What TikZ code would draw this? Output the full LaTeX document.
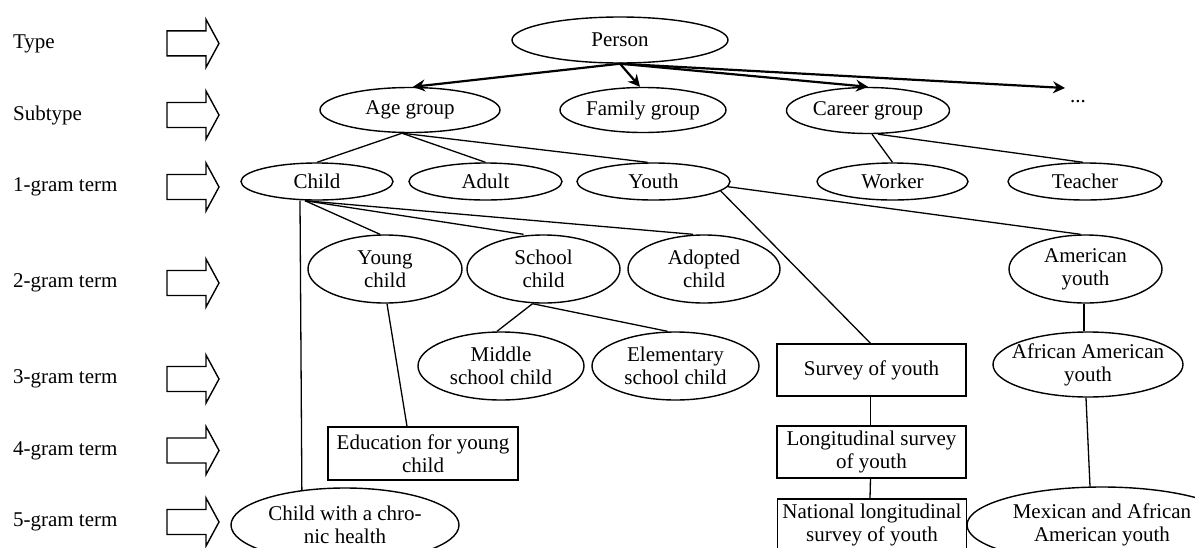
\documentclass[tikz,border=0pt]{standalone}
\usepackage{fontspec}
\setmainfont{Liberation Serif}
\usetikzlibrary{shapes.geometric,arrows.meta}
\begin{document}
\begin{tikzpicture}[x=1pt,y=-1pt,
  txt/.style={font=\fontsize{21}{23}\selectfont},
  lbl/.style={txt,anchor=west,inner sep=0pt},
  ell/.style={txt,ellipse,draw,line width=1.4pt,fill=white,inner sep=0pt,align=center},
  box/.style={txt,rectangle,draw,line width=1.4pt,fill=white,inner sep=0pt,align=center,minimum width=189pt,minimum height=52pt},
  conn/.style={line width=1.3pt},
  harrow/.style={line width=2.2pt,-{Stealth[length=12pt,width=12pt,inset=4pt]}},
  blk/.style={draw,line width=1.4pt,fill=white,line join=miter}]
\clip (0,0) rectangle (1195,547);
\fill[white] (0,0) rectangle (1195,547);

% level labels and block arrows
\foreach \yy/\tt [count=\i] in {43.4/Type,115/Subtype,187/1-gram term,283/2-gram term,379/3-gram term,450.5/4-gram term,522/5-gram term}{
  \node[lbl] (lab\i) at (12.9,\yy) {\tt};
  \draw[blk] (167,{\yy-12.5}) -- (206,{\yy-12.5}) -- (206,{\yy-24}) -- (219,\yy) -- (206,{\yy+24}) -- (206,{\yy+12.5}) -- (167,{\yy+12.5}) -- cycle;
}

% type / subtype
\node[ell,minimum width=216pt,minimum height=46pt] (person) at (620,40) {Person};
\node[ell,minimum width=180pt,minimum height=45pt] (age) at (410,110) {Age group};
\node[ell,minimum width=166pt,minimum height=45pt] (family) at (643,110) {Family group};
\node[ell,minimum width=163pt,minimum height=46pt] (career) at (868,110.5) {Career group};
\node[txt,anchor=base,inner sep=0pt] (dots) at (1078,102) {...};
\coordinate (dotsend) at (1065,88);

% 1-gram
\node[ell,minimum width=152pt,minimum height=37pt] (child) at (317,181.5) {Child};
\node[ell,minimum width=153pt,minimum height=37pt] (adult) at (485.5,181.5) {Adult};
\node[ell,minimum width=153pt,minimum height=37pt] (youth) at (653.5,181.5) {Youth};
\node[ell,minimum width=151pt,minimum height=37pt] (worker) at (892.5,181.5) {Worker};
\node[ell,minimum width=154pt,minimum height=37pt] (teacher) at (1085,181.5) {Teacher};

% 2-gram
\node[ell,minimum width=154pt,minimum height=68pt] (young) at (385,269) {Young\\child};
\node[ell,minimum width=153pt,minimum height=68pt] (school) at (543.5,269) {School\\child};
\node[ell,minimum width=152pt,minimum height=68pt] (adopted) at (704,269) {Adopted\\child};
\node[ell,minimum width=153pt,minimum height=68pt] (american) at (1085.5,269) {American\\youth};

% 3-gram
\node[ell,minimum width=166pt,minimum height=68pt] (middle) at (501,366) {Middle\\school child};
\node[ell,minimum width=167pt,minimum height=68pt] (elementary) at (675.5,366) {Elementary\\school child};
\node[box] (survey) at (871.5,370) {Survey of youth};
\node[ell,inner xsep=-9pt,minimum width=190pt,minimum height=65pt] (african) at (1088,364.5) {African American\\youth};

% 4-gram
\node[box,minimum width=190pt,minimum height=53pt] (edu) at (423,453.5) {Education for young\\child};
\node[box] (longi) at (871.5,452) {Longitudinal survey\\of youth};

% 5-gram
\node[ell,minimum width=228pt,minimum height=74pt] (chronic) at (345,525) {Child with a chro-\\nic health};
\node[box] (national) at (872,525) {National longitudinal\\survey of youth};
\node[ell,minimum width=270pt,minimum height=76pt] (mexican) at (1102,525) {Mexican and African\\American youth};

% arrows from Person
\draw[harrow] (person.south) -- ([xshift=3pt]age.north);
\draw[harrow] (person.south) -- ([xshift=-3pt]family.north);
\draw[harrow] (person.south) -- (career.north);
\draw[harrow] (person.south) -- (dotsend);

% connectors
\draw[conn] ([xshift=-8pt]age.south) -- (child.north);
\draw[conn] ([xshift=-8pt]age.south) -- (adult.north);
\draw[conn] ([xshift=-8pt]age.south) -- ([xshift=-6pt]youth.north);
\draw[conn] ([xshift=4pt]career.south) -- (worker.north);
\draw[conn] ([xshift=10pt]career.south) -- ([xshift=-2pt]teacher.north);

\draw[conn] ([xshift=-12pt]child.south) -- ([xshift=-5pt]young.north);
\draw[conn] ([xshift=-12pt]child.south) -- ([xshift=-20pt]school.north);
\draw[conn] ([xshift=-12pt]child.south) -- ([xshift=-11pt]adopted.north);
\draw[conn] ([xshift=-17pt]child.south) -- (chronic.141.5);

\draw[conn] ([xshift=2pt]young.south) -- ([xshift=-16pt]edu.north);
\draw[conn] ([xshift=-11pt]school.south) -- ([xshift=-4pt]middle.north);
\draw[conn] ([xshift=-11pt]school.south) -- ([xshift=-8pt]elementary.north);

\draw[conn] (youth.-8) -- ([xshift=-1pt]survey.north);
\draw[conn] (youth.-4) -- ([xshift=-5pt]american.north);
\draw[conn] ([xshift=-1pt]survey.south) -- ([xshift=-1pt]longi.north);
\draw[conn] ([xshift=-1pt]longi.south) -- ([xshift=-2pt]national.north);
\draw[conn] ([xshift=-1.5pt]american.south) -- ([xshift=-4pt]african.north);
\draw[conn] ([xshift=-2pt]african.south) -- ([xshift=-12pt]mexican.north);
\end{tikzpicture}
\end{document}
